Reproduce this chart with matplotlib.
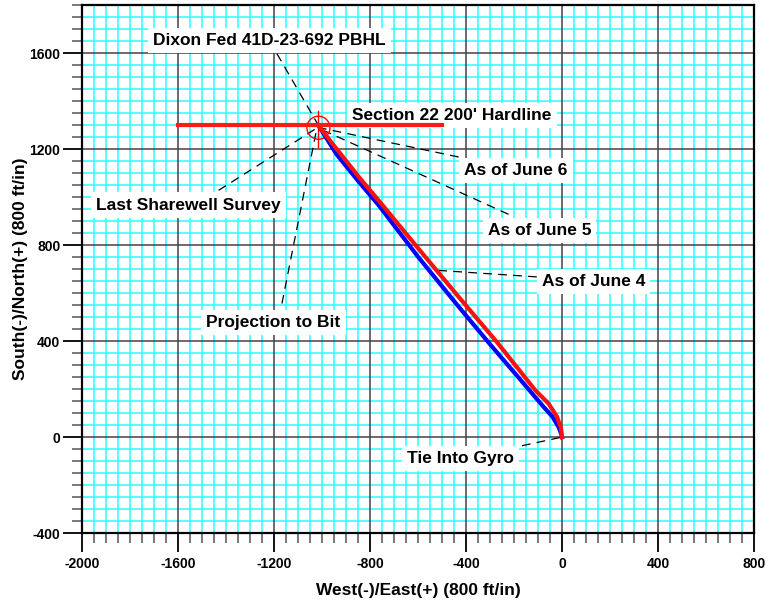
import matplotlib
matplotlib.use("Agg")
import matplotlib.pyplot as plt
from matplotlib.ticker import MultipleLocator
from matplotlib.patches import Circle

plt.rcParams['font.family'] = ['Liberation Sans', 'DejaVu Sans']
plt.rcParams['font.weight'] = 'bold'
plt.rcParams['axes.unicode_minus'] = False

# well paths (ft): x = West(-)/East(+), y = South(-)/North(+)
red_x = [0, -5, -21, -56, -112, -272, -431, -600, -765, -841, -960, -1000, -1012]
red_y = [0, 40, 85, 140, 196, 397, 585, 788, 988, 1078, 1228, 1280, 1295]
blue_x = [0, -4, -15, -40, -77, -180, -300, -440, -600, -765, -848, -940, -1012]
blue_y = [0, 15, 43, 85, 126, 247, 387, 555, 752, 968, 1066, 1180, 1295]

# target / hardline
target = (-1015, 1290)
hardline_x = [-1600, -500]
hardline_y = 1300

# labels: text, text position, leader start, leader end
labels = ["Dixon Fed 41D-23-692 PBHL", "Section 22 200' Hardline", "As of June 6",
          "As of June 5", "As of June 4", "Last Sharewell Survey",
          "Projection to Bit", "Tie Into Gyro"]
label_pos = [(-1219, 1654), (-460, 1340), (-192, 1112), (-94, 862), (131, 650),
             (-1556, 967), (-1202, 479), (-423, -89)]
leader_from = [(-1188, 1599), None, (-431, 1168), (-223, 929), (-105, 668),
               (-1431, 1029), (-1167, 557), (-167, -36)]
leader_to = [(-1015, 1300), None, (-1001, 1288), (-994, 1279), (-528, 696),
             (-1015, 1293), (-1022, 1286), (0, 0)]

fig = plt.figure(figsize=(7.81, 6.04), dpi=100)
ax = fig.add_axes([0.105, 0.1175, 0.8605, 0.8735])

ax.set_xlim(-2000, 800)
ax.set_ylim(-400, 1800)

ax.xaxis.set_major_locator(MultipleLocator(400))
ax.yaxis.set_major_locator(MultipleLocator(400))
ax.xaxis.set_minor_locator(MultipleLocator(50))
ax.yaxis.set_minor_locator(MultipleLocator(50))

# cyan minor grid, dark major grid on top of it
ax.grid(which='minor', color='#38ffff', linewidth=1.2)
ax.set_axisbelow(True)
for v in ax.get_xticks():
    ax.axvline(v, color='#444444', lw=1.1, zorder=1)
for v in ax.get_yticks():
    ax.axhline(v, color='#444444', lw=1.1, zorder=1)

ax.tick_params(which='major', direction='out', length=14, width=1.3, color='black',
               labelsize=10, pad=1.5)
ax.tick_params(axis='x', which='major', pad=3)
ax.tick_params(which='minor', direction='out', length=7.2, width=1.3, color='#707070')
for lab in ax.get_xticklabels() + ax.get_yticklabels():
    lab.set_fontweight('bold')
for sp in ax.spines.values():
    sp.set_linewidth(1.6)
    sp.set_zorder(8)

# leaders
for a, b in zip(leader_from, leader_to):
    if a is None:
        continue
    ax.plot([a[0], b[0]], [a[1], b[1]], color='black', lw=0.9,
            dashes=(7, 5), zorder=2)

# hardline and target
ax.plot(hardline_x, [hardline_y, hardline_y], color='#ff1a1a', lw=3, zorder=7)
ax.add_patch(Circle(target, 48, fill=False, ec='red', lw=1, zorder=3))
ax.plot([target[0], target[0]], [target[1] - 80, target[1] + 70], color='red', lw=1, zorder=3)

# well paths
ax.plot(blue_x, blue_y, color='#0000ff', lw=3, zorder=4)
ax.plot(red_x, red_y, color='#ff1010', lw=3, zorder=5)

for t, p in zip(labels, label_pos):
    ax.text(p[0], p[1], t, fontsize=12.5, fontweight='bold', ha='center', va='center',
            zorder=6, bbox=dict(boxstyle='square,pad=0.3', fc='white', ec='none'))

ax.set_xlabel('West(-)/East(+) (800 ft/in)', fontsize=12.5, fontweight='bold')
ax.set_ylabel('South(-)/North(+) (800 ft/in)', fontsize=12.5, fontweight='bold')
ax.xaxis.label.set_va('center')
ax.yaxis.label.set_va('center')
ax.xaxis.set_label_coords(0.5, -0.108)
ax.yaxis.set_label_coords(-0.092, 0.5)

fig.savefig('out.png', dpi=100)
